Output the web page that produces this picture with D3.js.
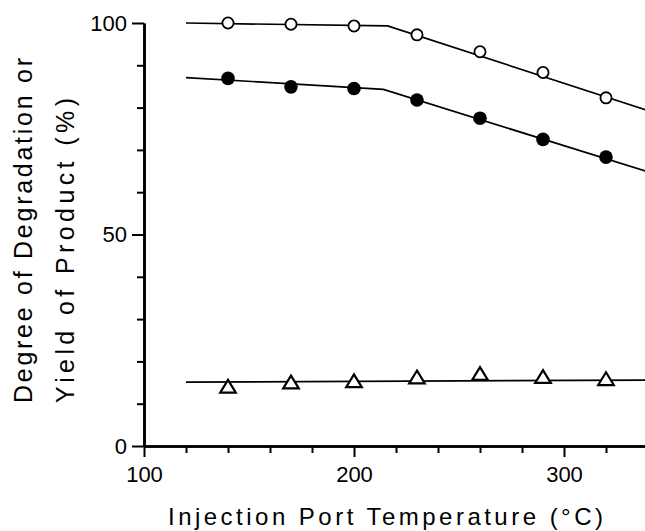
<!DOCTYPE html>
<html>
<head>
    <title>Degradation vs injection port temperature</title>
    <script src="https://d3js.org/d3.v7.min.js"></script>
    <style>
        body { margin: 0; background: #fff; }
        text { font-family: "Liberation Sans", Arial, sans-serif; fill: #000; }
        .axis .domain { stroke: #000; stroke-width: 2.6px; }
        .axis line { stroke: #000; stroke-width: 2px; }
        .axis text { font-size: 22px; }
        .fit { fill: none; stroke: #000; stroke-width: 1.7px; }
    </style>
</head>
<body>
<script>
    // temperatures of the measured points (°C)
    var temps = [140, 170, 200, 230, 260, 290, 320];
    // open circles, filled circles, triangles (%)
    var openVals   = [100.0, 99.7, 99.3, 97.2, 93.2, 88.3, 82.3];
    var filledVals = [86.9, 84.9, 84.5, 81.8, 77.5, 72.5, 68.3];
    var triVals    = [14.1, 15.1, 15.4, 16.3, 17.1, 16.4, 15.9];
    // fitted lines, as [temp, value] break points
    var openFit   = [[120, 100.0], [216, 99.3], [340, 79.3]];
    var filledFit = [[120, 87.1], [214, 84.3], [340, 64.8]];
    var triFit    = [[120, 15.1], [340, 15.6]];

    var xMajor = [100, 200, 300];
    var xMinor = [120, 140, 160, 180, 220, 240, 260, 280, 320, 340];
    var yMajor = [0, 50, 100];
    var yMinor = [10, 20, 30, 40, 60, 70, 80, 90];

    var width = 645, height = 531;

    var svg = d3.select("body").append("svg")
        .attr("width", width)
        .attr("height", height);

    var x = d3.scaleLinear().domain([100, 340]).range([144, 648]);
    var y = d3.scaleLinear().domain([0, 100]).range([446, 23]);

    // axes: minor ticks first, then major ones with labels
    svg.append("g").attr("class", "axis")
        .attr("transform", "translate(0," + y(0) + ")")
        .call(d3.axisBottom(x).tickValues(xMinor).tickSize(7).tickSizeOuter(0).tickFormat(""));
    svg.append("g").attr("class", "axis")
        .attr("transform", "translate(0," + y(0) + ")")
        .call(d3.axisBottom(x).tickValues(xMajor).tickSize(11).tickSizeOuter(0).tickPadding(9).tickFormat(d3.format("d")));

    svg.append("g").attr("class", "axis")
        .attr("transform", "translate(" + x(100) + ",0)")
        .call(d3.axisLeft(y).tickValues(yMinor).tickSize(7).tickSizeOuter(0).tickFormat(""));
    svg.append("g").attr("class", "axis")
        .attr("transform", "translate(" + x(100) + ",0)")
        .call(d3.axisLeft(y).tickValues(yMajor).tickSize(12).tickSizeOuter(0).tickPadding(5).tickFormat(d3.format("d")));

    svg.selectAll(".axis text").attr("font-family", "Liberation Sans");

    // fitted lines
    var line = d3.line()
        .x(function(d) { return x(d[0]); })
        .y(function(d) { return y(d[1]); });

    [openFit, filledFit, triFit].forEach(function(f) {
        svg.append("path").attr("class", "fit").attr("d", line(f));
    });

    // markers
    svg.append("g").selectAll("circle")
        .data(temps)
        .enter().append("circle")
        .attr("cx", function(d) { return x(d); })
        .attr("cy", function(d, i) { return y(openVals[i]); })
        .attr("r", 5.6)
        .attr("fill", "#fff")
        .attr("stroke", "#000")
        .attr("stroke-width", 1.8);

    svg.append("g").selectAll("circle")
        .data(temps)
        .enter().append("circle")
        .attr("cx", function(d) { return x(d); })
        .attr("cy", function(d, i) { return y(filledVals[i]); })
        .attr("r", 6.8)
        .attr("fill", "#000");

    function triangle(cx, cy) {
        return "M" + cx + "," + (cy - 6.5) + "L" + (cx + 7.8) + "," + (cy + 6.3) +
            "L" + (cx - 7.8) + "," + (cy + 6.3) + "Z";
    }

    svg.append("g").selectAll("path")
        .data(temps)
        .enter().append("path")
        .attr("d", function(d, i) { return triangle(x(d), y(triVals[i])); })
        .attr("fill", "#fff")
        .attr("stroke", "#000")
        .attr("stroke-width", 2.2)
        .attr("stroke-linejoin", "miter");

    // axis titles
    svg.append("text")
        .attr("x", 168)
        .attr("y", 525)
        .attr("font-size", 24)
        .attr("textLength", 435)
        .attr("lengthAdjust", "spacing")
        .text("Injection Port Temperature (°C)");

    svg.append("text")
        .attr("transform", "translate(32,403) rotate(-90)")
        .attr("font-size", 25)
        .attr("textLength", 345)
        .attr("lengthAdjust", "spacing")
        .text("Degree of Degradation or");

    svg.append("text")
        .attr("transform", "translate(74,403) rotate(-90)")
        .attr("font-size", 25)
        .attr("textLength", 305)
        .attr("lengthAdjust", "spacing")
        .text("Yield of Product (%)");
</script>
</body>
</html>
